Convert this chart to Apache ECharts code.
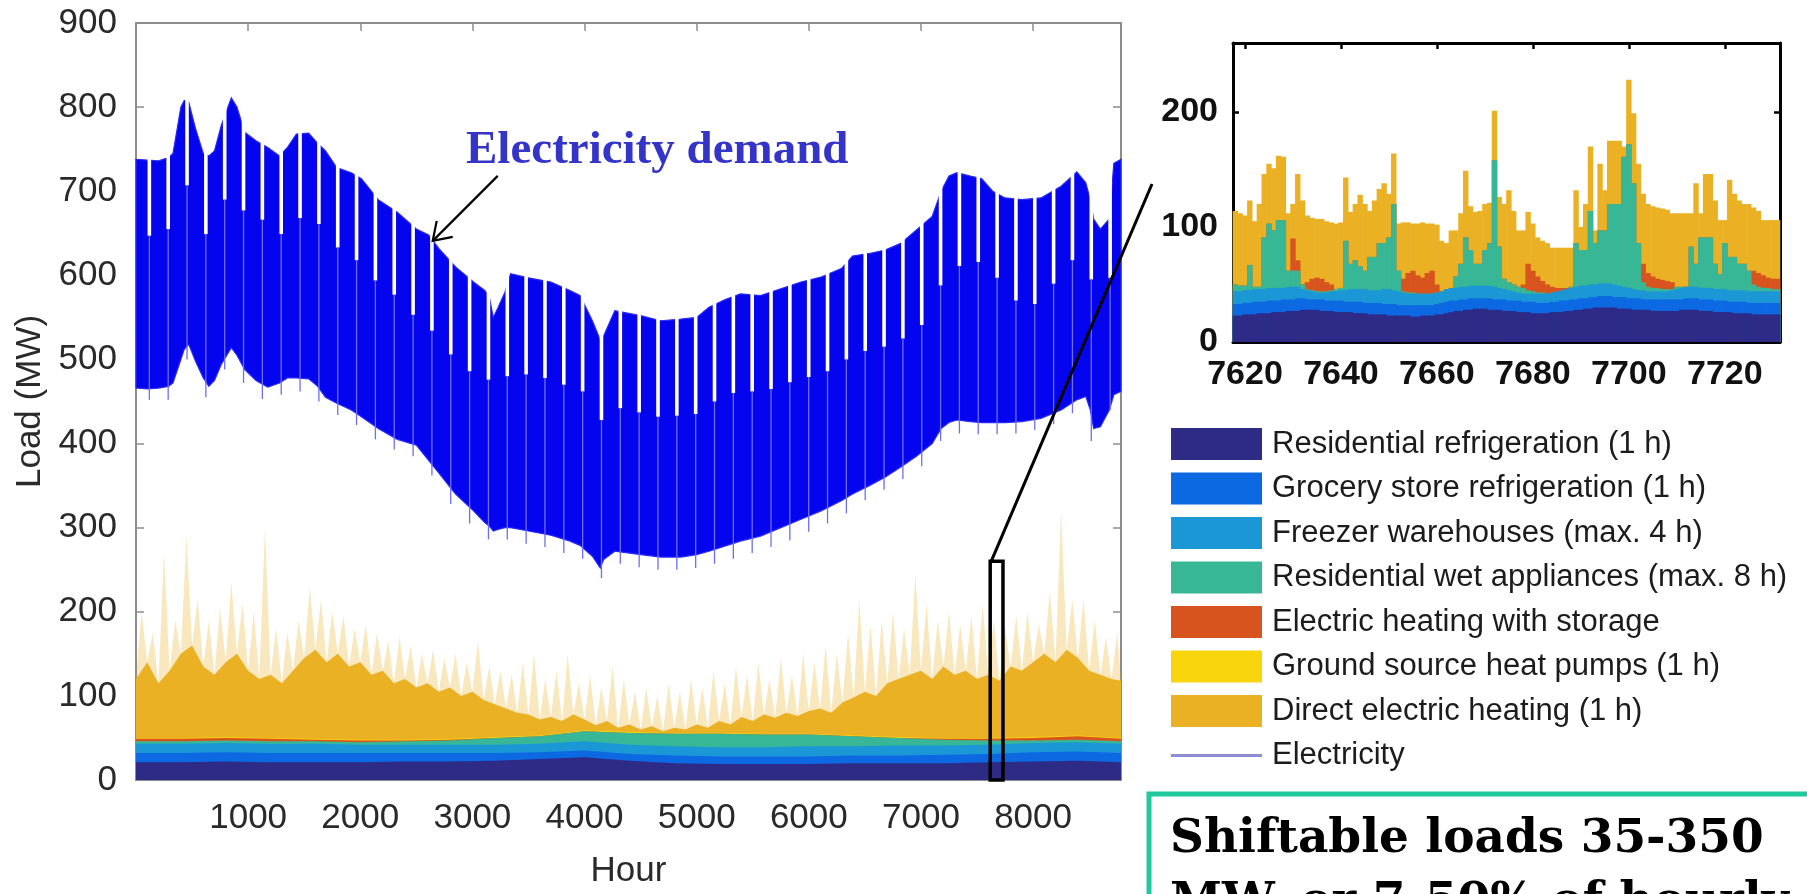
<!DOCTYPE html>
<html>
<head>
<meta charset="utf-8">
<script src="https://cdn.jsdelivr.net/npm/echarts@6/dist/echarts.min.js"></script>
<style>
  html, body { margin: 0; padding: 0; background: #ffffff; }
  #chart { width: 1807px; height: 894px; }
</style>
</head>
<body>
<div id="chart"></div>
<script>
// ---------- Electricity demand over the year (MW): daily-peak and night-trough envelopes ----------
const demandHours = [0, 100, 200, 290, 330, 400, 430, 470, 530, 600, 650, 700, 760, 850, 900, 970, 1070, 1175, 1280, 1350,
  1430, 1540, 1620, 1690, 1790, 1920, 2010, 2160, 2330, 2500, 2610, 2700, 2850, 3010, 3110, 3150, 3186, 3230, 3290, 3340,
  3500, 3700, 3870, 3960, 4070, 4140, 4170, 4270, 4500, 4680, 4860, 5000, 5110, 5250, 5390, 5570, 5750, 5930, 6110, 6290,
  6390, 6540, 6680, 6820, 6960, 7100, 7180, 7250, 7320, 7440, 7540, 7640, 7750, 7900, 8070, 8250, 8390, 8470, 8510, 8540,
  8600, 8680, 8720, 8784];
const demandTop = [738, 737, 736, 740, 745, 800, 808, 806, 775, 745, 742, 748, 778, 811, 800, 770, 760, 752, 742, 752,
  768, 769, 757, 748, 728, 722, 715, 690, 675, 655, 648, 632, 610, 592, 582, 575, 550, 562, 580, 602,
  597, 592, 582, 576, 546, 523, 528, 558, 552, 546, 548, 550, 562, 571, 578, 576, 584, 592, 598, 608,
  623, 626, 630, 638, 654, 670, 700, 718, 722, 718, 715, 700, 692, 690, 692, 706, 723, 710, 690, 667,
  655, 667, 733, 738];
const demandLow = [466, 465, 466, 468, 472, 500, 512, 518, 498, 478, 468, 475, 494, 514, 505, 488, 475, 467, 472, 478,
  478, 477, 468, 455, 448, 440, 432, 418, 405, 398, 380, 365, 340, 320, 306, 302, 296, 298, 300, 300,
  296, 291, 284, 279, 266, 252, 262, 272, 268, 265, 265, 268, 272, 278, 284, 290, 300, 310, 320, 332,
  340, 350, 360, 372, 385, 400, 418, 425, 428, 426, 425, 425, 425, 426, 430, 440, 452, 456, 440, 418,
  420, 440, 458, 462];

// Weekend days: lower daily peak and lower night trough
const weekendHours = [119, 287, 455, 623, 791, 959, 1127, 1295, 1463, 1631, 1799, 1967, 2135, 2303, 2471, 2639, 2807,
  2975, 3143, 3311, 3479, 3647, 3815, 3983, 4151, 4319, 4487, 4655, 4823, 4991, 5159, 5327, 5495, 5663, 5831, 5999,
  6167, 6335, 6503, 6671, 6839, 7007, 7175, 7343, 7511, 7679, 7847, 8015, 8183, 8351, 8519, 8687];
const weekendPeak = [647, 655, 707, 649, 690, 677, 666, 649, 668, 661, 633, 618, 594, 577, 553, 534, 506,
  486, 476, 480, 482, 478, 470, 462, 428, 442, 437, 432, 433, 435, 450, 460, 462, 465, 473, 479,
  486, 500, 510, 515, 525, 541, 588, 611, 616, 597, 570, 566, 590, 618, 595, 597];
const weekendLow = [452, 452, 500, 455, 488, 472, 453, 458, 462, 450, 434, 422, 405, 393, 385, 362, 328,
  305, 286, 286, 281, 277, 270, 263, 240, 257, 253, 250, 250, 252, 257, 263, 270, 277, 285, 295,
  305, 317, 333, 345, 358, 373, 403, 412, 411, 411, 412, 416, 423, 436, 403, 440];

// ---------- Shiftable loads over the year (cumulative tops, MW) ----------
const heatHours = [0, 100, 200, 300, 400, 500, 600, 700, 800, 900, 1000, 1100, 1200, 1300, 1400, 1500, 1600, 1700, 1800,
  1900, 2000, 2100, 2200, 2300, 2400, 2500, 2600, 2700, 2800, 2900, 3000, 3100, 3200, 3300, 3400, 3500, 3600, 3700,
  3800, 3900, 4000, 4100, 4200, 4300, 4400, 4500, 4600, 4700, 4800, 4900, 5000, 5100, 5200, 5300, 5400, 5500, 5600,
  5700, 5800, 5900, 6000, 6100, 6200, 6300, 6400, 6500, 6600, 6700, 6800, 6900, 7000, 7100, 7200, 7300, 7400, 7500,
  7600, 7700, 7800, 7900, 8000, 8100, 8200, 8300, 8400, 8500, 8600, 8700, 8784];
const directHeatingTop = [120, 140, 115, 130, 150, 160, 135, 125, 140, 150, 130, 120, 125, 115, 130, 145, 155, 140, 150,
  135, 140, 125, 130, 115, 120, 110, 115, 105, 110, 100, 105, 95, 90, 85, 80, 78, 72, 75,
  70, 78, 72, 65, 70, 62, 66, 60, 64, 58, 62, 60, 66, 62, 70, 66, 75, 70, 78,
  74, 80, 76, 82, 85, 80, 92, 98, 105, 100, 115, 120, 125, 130, 120, 135, 125, 130, 120,
  125, 118, 135, 130, 140, 150, 140, 155, 145, 130, 125, 120, 118];
const spikeHours = [50, 150, 250, 350, 450, 550, 650, 750, 850, 950, 1050, 1150, 1250, 1350, 1450, 1550, 1650, 1750,
  1850, 1950, 2050, 2150, 2250, 2350, 2450, 2550, 2650, 2750, 2850, 2950, 3050, 3150, 3250, 3350, 3450, 3550, 3650,
  3750, 3850, 3950, 4050, 4150, 4250, 4350, 4450, 4550, 4650, 4750, 4850, 4950, 5050, 5150, 5250, 5350, 5450, 5550,
  5650, 5750, 5850, 5950, 6050, 6150, 6250, 6350, 6450, 6550, 6650, 6750, 6850, 6950, 7050, 7150, 7250, 7350, 7450,
  7550, 7650, 7750, 7850, 7950, 8050, 8150, 8250, 8350, 8450, 8550, 8650, 8750];
const directHeatingSpikes = [200, 175, 270, 190, 290, 215, 190, 205, 235, 210, 200, 300, 180, 175, 190, 230, 215, 200,
  195, 180, 185, 175, 165, 170, 160, 150, 155, 145, 150, 140, 165, 135, 130, 125, 140, 150, 120,
  130, 150, 115, 125, 110, 135, 120, 105, 110, 100, 115, 105, 120, 110, 130, 115, 135, 125, 140,
  120, 145, 125, 150, 140, 160, 150, 175, 215, 185, 190, 200, 180, 245, 210, 190, 200, 185, 195,
  210, 190, 180, 195, 200, 185, 225, 320, 215, 215, 190, 170, 175];
const baseHours = [0, 400, 800, 1200, 1600, 2000, 2400, 2800, 3200, 3600, 4000, 4400, 4800, 5200, 5600, 6000, 6400,
  6800, 7200, 7600, 8000, 8400, 8784];
const gshpTop =        [50, 50, 51, 50, 49, 48, 48, 49, 51, 53, 59, 57, 56, 56, 55, 55, 53, 51, 50, 50, 51, 53, 50];
const storageTop =     [49, 49, 50, 49, 48, 47, 47, 48, 50, 52, 58, 56, 55, 55, 54, 54, 52, 50, 49, 49, 50, 52, 49];
const wetTop =         [46, 46, 47, 46, 46, 45, 46, 47, 50, 52, 58, 56, 55, 55, 54, 54, 52, 50, 48, 47, 47, 48, 46];
const freezerTop =     [43, 43, 44, 43, 43, 42, 42, 42, 42, 43, 46, 42, 40, 39, 39, 40, 40, 41, 41, 42, 44, 45, 43];
const groceryTop =     [32, 32, 33, 32, 32, 32, 32, 32, 32, 33, 35, 31, 29, 28, 28, 28, 29, 29, 30, 31, 33, 34, 32];
const residentialTop = [21, 21, 22, 21, 21, 21, 22, 22, 23, 25, 27, 23, 20, 19, 19, 19, 20, 20, 20, 21, 22, 23, 21];

// ---------- Close-up week, hourly cumulative tops (MW) ----------
const zoomRange = [7617.5, 7731.5];
const zoomMaxLoad = 260;
const zoomHours = [7618, 7619, 7620, 7621, 7622, 7623, 7624, 7625, 7626, 7627, 7628, 7629, 7630, 7631, 7632, 7633, 7634,
  7635, 7636, 7637, 7638, 7639, 7640, 7641, 7642, 7643, 7644, 7645, 7646, 7647, 7648, 7649, 7650, 7651, 7652, 7653, 7654,
  7655, 7656, 7657, 7658, 7659, 7660, 7661, 7662, 7663, 7664, 7665, 7666, 7667, 7668, 7669, 7670, 7671, 7672, 7673, 7674,
  7675, 7676, 7677, 7678, 7679, 7680, 7681, 7682, 7683, 7684, 7685, 7686, 7687, 7688, 7689, 7690, 7691, 7692, 7693, 7694,
  7695, 7696, 7697, 7698, 7699, 7700, 7701, 7702, 7703, 7704, 7705, 7706, 7707, 7708, 7709, 7710, 7711, 7712, 7713, 7714,
  7715, 7716, 7717, 7718, 7719, 7720, 7721, 7722, 7723, 7724, 7725, 7726, 7727, 7728, 7729, 7730, 7731];
const zoomDirect = [114, 112, 110, 123, 105, 120, 146, 155, 151, 162,
  161, 112, 120, 146, 123, 110, 108, 107, 107, 105,
  104, 103, 104, 143, 113, 120, 128, 120, 114, 123,
  133, 138, 129, 164, 103, 104, 104, 103, 103, 104,
  103, 103, 102, 88, 86, 97, 97, 112, 149, 118,
  113, 114, 120, 121, 201, 126, 120, 132, 114, 97,
  97, 113, 103, 91, 88, 86, 82, 82, 82, 82,
  82, 132, 100, 120, 170, 97, 155, 132, 175, 175,
  175, 170, 228, 199, 155, 129, 120, 118, 117, 116,
  115, 112, 112, 112, 112, 112, 138, 112, 146, 146,
  123, 106, 106, 141, 129, 123, 120, 120, 117, 114,
  106, 106, 106, 106];
const zoomStorage = [50, 49, 49, 67, 48, 48, 91, 103, 97, 106,
  106, 62, 90, 71, 50, 52, 55, 56, 55, 52,
  50, 46, 47, 88, 68, 71, 66, 62, 74, 74,
  86, 86, 91, 120, 62, 55, 60, 62, 58, 56,
  60, 62, 50, 44, 45, 46, 57, 68, 91, 80,
  68, 68, 80, 86, 158, 83, 55, 52, 50, 48,
  50, 68, 62, 57, 53, 50, 48, 47, 47, 47,
  48, 86, 80, 80, 114, 86, 97, 97, 120, 120,
  120, 161, 172, 138, 86, 68, 60, 57, 55, 54,
  53, 52, 48, 48, 48, 83, 68, 91, 91, 91,
  68, 59, 86, 74, 74, 68, 68, 62, 62, 60,
  58, 56, 55, 55];
const zoomWet = [50, 49, 49, 67, 48, 48, 91, 103, 97, 106,
  106, 62, 62, 62, 50, 46, 45, 44, 44, 44,
  45, 46, 47, 88, 68, 71, 66, 62, 74, 74,
  86, 86, 91, 120, 62, 44, 43, 43, 42, 42,
  42, 42, 43, 44, 45, 46, 57, 68, 91, 80,
  68, 68, 80, 86, 158, 83, 55, 52, 50, 48,
  47, 45, 44, 43, 43, 42, 42, 42, 43, 44,
  48, 86, 80, 80, 114, 86, 97, 97, 120, 120,
  120, 161, 172, 138, 86, 52, 48, 47, 47, 46,
  46, 46, 48, 48, 48, 83, 68, 91, 91, 91,
  68, 59, 86, 74, 74, 68, 68, 62, 50, 48,
  47, 47, 46, 46];
const zoomFreezer = [44, 44, 45, 45, 46, 46, 46, 47, 47, 47,
  47, 48, 48, 48, 46, 45, 44, 43, 43, 43,
  44, 44, 45, 45, 46, 46, 46, 46, 45, 45,
  45, 46, 46, 45, 44, 43, 42, 42, 42, 42,
  42, 42, 43, 44, 46, 47, 47, 48, 48, 49,
  49, 49, 49, 49, 48, 47, 46, 45, 44, 43,
  42, 42, 42, 42, 42, 42, 43, 44, 45, 46,
  47, 48, 49, 49, 50, 50, 51, 51, 51, 50,
  49, 48, 47, 46, 45, 45, 44, 44, 44, 44,
  44, 45, 46, 47, 48, 48, 48, 47, 47, 47,
  46, 46, 46, 45, 45, 45, 45, 44, 44, 44,
  44, 44, 44, 44];
const zoomGrocery = [33, 33, 34, 34, 35, 35, 35, 36, 36, 36,
  37, 37, 37, 38, 38, 37, 37, 37, 37, 36,
  36, 36, 36, 35, 35, 35, 35, 34, 34, 34,
  34, 33, 33, 33, 32, 32, 32, 32, 32, 32,
  32, 32, 33, 34, 35, 36, 36, 37, 37, 38,
  38, 38, 38, 38, 37, 37, 37, 36, 36, 36,
  35, 35, 35, 34, 34, 34, 35, 35, 36, 36,
  37, 37, 38, 38, 39, 39, 40, 40, 40, 39,
  39, 39, 38, 38, 38, 37, 37, 37, 37, 37,
  37, 37, 37, 37, 38, 38, 38, 37, 37, 37,
  36, 36, 36, 35, 35, 35, 35, 34, 34, 34,
  34, 34, 34, 34];
const zoomResidential = [23, 23, 24, 24, 24, 25, 25, 25, 26, 26,
  26, 27, 27, 27, 28, 28, 28, 28, 27, 27,
  27, 26, 26, 26, 26, 25, 25, 25, 24, 24,
  24, 24, 23, 23, 23, 23, 23, 22, 22, 23,
  23, 23, 24, 24, 25, 26, 27, 27, 28, 28,
  29, 29, 29, 28, 28, 28, 27, 27, 27, 26,
  26, 26, 25, 25, 25, 25, 26, 26, 26, 27,
  27, 28, 28, 29, 29, 30, 30, 30, 30, 30,
  29, 29, 29, 28, 28, 28, 28, 27, 27, 27,
  27, 27, 27, 28, 28, 28, 28, 27, 27, 27,
  26, 26, 26, 26, 25, 25, 25, 25, 24, 24,
  24, 24, 24, 24];

// ---------- Ticks, names, colours ----------
const hourTicks = [1000, 2000, 3000, 4000, 5000, 6000, 7000, 8000];
const zoomTicks = [7620, 7640, 7660, 7680, 7700, 7720];
const zoomLoadTicks = [0, 100, 200];
const loadNames = ['Residential refrigeration (1 h)', 'Grocery store refrigeration (1 h)', 'Freezer warehouses (max. 4 h)',
  'Residential wet appliances (max. 8 h)', 'Electric heating with storage', 'Ground source heat pumps (1 h)',
  'Direct electric heating (1 h)'];
const loadColors = ['#2d2b86', '#0d69e2', '#1c97d6', '#37b795', '#d8541e', '#f8d50c', '#ebb124'];
const electricityName = 'Electricity';
const electricityLegendColor = '#8d8dd3';
const demandFill = '#0404ef';

// ---------- Chart ----------
const chart = echarts.init(document.getElementById('chart'), null, { renderer: 'canvas' });
const SANS = '"Liberation Sans", Arial, Helvetica, sans-serif';
const pairs = (xs, ys) => xs.map((x, i) => [x, ys[i]]);
const plainNumber = v => String(v);

const mainAxisColor = '#8d8d8d';
const tickFont = { color: '#2a2a2a', fontSize: 35, fontFamily: SANS, formatter: plainNumber };

function yearArea(name, xs, ys, color, opacity) {
  return {
    name, type: 'line', xAxisIndex: 0, yAxisIndex: 0, data: pairs(xs, ys),
    symbol: 'none', silent: true, animation: false,
    lineStyle: { width: 0 }, areaStyle: { color, opacity: opacity == null ? 1 : opacity }
  };
}
function weekBars(name, ys, color) {
  return {
    name, type: 'bar', xAxisIndex: 1, yAxisIndex: 1, data: pairs(zoomHours, ys),
    barWidth: 5.4, barGap: '-100%', silent: true, animation: false,
    itemStyle: { color }
  };
}

// pale spikes above the dense direct-heating band
const hazeData = pairs(heatHours, directHeatingTop).concat(pairs(spikeHours, directHeatingSpikes))
  .sort((a, b) => a[0] - b[0]);

const residentialSeries = yearArea(loadNames[0], baseHours, residentialTop, loadColors[0]);
// outline of the week shown in the close-up panel, drawn above the load areas
residentialSeries.markArea = {
  silent: true, z: 6, label: { show: false },
  itemStyle: { color: 'rgba(0,0,0,0)', borderColor: '#000000', borderWidth: 3.5 },
  data: [[{ coord: [zoomRange[0], 0] }, { coord: [zoomRange[1], zoomMaxLoad] }]]
};

const series = [
  Object.assign(yearArea('Direct electric heating spikes', [], [], loadColors[6], 0.3), { data: hazeData }),
  yearArea(loadNames[6], heatHours, directHeatingTop, loadColors[6]),
  yearArea(loadNames[5], baseHours, gshpTop, loadColors[5]),
  yearArea(loadNames[4], baseHours, storageTop, loadColors[4]),
  yearArea(loadNames[3], baseHours, wetTop, loadColors[3]),
  yearArea(loadNames[2], baseHours, freezerTop, loadColors[2]),
  yearArea(loadNames[1], baseHours, groceryTop, loadColors[1]),
  residentialSeries,
  {
    // band between night troughs and daily peaks
    name: electricityName, type: 'custom', xAxisIndex: 0, yAxisIndex: 0, silent: true, animation: false,
    data: demandHours.map((h, i) => [h, demandLow[i], demandTop[i]]),
    renderItem: function (params, api) {
      if (params.dataIndex !== 0) return null;
      const upper = demandHours.map((h, i) => api.coord([h, demandTop[i]]));
      const lower = demandHours.map((h, i) => api.coord([h, demandLow[i]])).reverse();
      return {
        type: 'polygon', shape: { points: upper.concat(lower) },
        style: { fill: demandFill, stroke: '#2a2af3', lineWidth: 1.2 }
      };
    }
  },
  {
    name: 'Weekends', type: 'custom', xAxisIndex: 0, yAxisIndex: 0, silent: true, animation: false,
    data: weekendHours.map((h, i) => [h, weekendPeak[i], weekendLow[i]]),
    renderItem: function (params, api) {
      const peak = api.coord([api.value(0), api.value(1)]);
      const low = api.coord([api.value(0), api.value(2)]);
      const ceil = api.coord([api.value(0), 840]);
      return {
        type: 'group',
        children: [
          { type: 'rect', shape: { x: peak[0] - 1.8, y: ceil[1], width: 3.6, height: peak[1] - ceil[1] },
            style: { fill: '#ffffff' } },
          { type: 'line', shape: { x1: low[0], y1: low[1], x2: peak[0], y2: peak[1] },
            style: { stroke: '#6e6ef2', lineWidth: 1.3 } }
        ]
      };
    }
  },
  weekBars(loadNames[6], zoomDirect, loadColors[6]),
  weekBars(loadNames[4], zoomStorage, loadColors[4]),
  weekBars(loadNames[3], zoomWet, loadColors[3]),
  weekBars(loadNames[2], zoomFreezer, loadColors[2]),
  weekBars(loadNames[1], zoomGrocery, loadColors[1]),
  weekBars(loadNames[0], zoomResidential, loadColors[0])
];

const mainLine = { show: true, onZero: false, lineStyle: { color: mainAxisColor, width: 2 } };
const mainTick = { show: true, inside: true, length: 8, lineStyle: { color: mainAxisColor, width: 1.5 } };
const zoomLine = { show: true, onZero: false, lineStyle: { color: '#000000', width: 3 } };
const zoomTick = { show: true, inside: true, length: 6, lineStyle: { color: '#000000', width: 2.5 } };
const zoomLabel = { color: '#111111', fontSize: 34, fontWeight: 'bold', fontFamily: SANS, formatter: plainNumber };

chart.setOption({
  backgroundColor: '#ffffff',
  animation: false,
  grid: [
    { left: 136, top: 23, width: 985, height: 760, show: false },
    { left: 1233, top: 43, width: 547, height: 299, show: false }
  ],
  xAxis: [
    { gridIndex: 0, type: 'value', min: 0, max: 8784, interval: 1000, position: 'bottom',
      axisLine: mainLine, axisTick: Object.assign({ customValues: hourTicks }, mainTick), splitLine: { show: false },
      axisLabel: Object.assign({ customValues: hourTicks, margin: 21 }, tickFont),
      name: 'Hour', nameLocation: 'middle', nameGap: 74,
      nameTextStyle: { color: '#2a2a2a', fontSize: 35, fontFamily: SANS } },
    { gridIndex: 1, type: 'value', min: zoomRange[0], max: zoomRange[1], position: 'bottom',
      axisLine: zoomLine, axisTick: Object.assign({ customValues: zoomTicks }, zoomTick), splitLine: { show: false },
      axisLabel: Object.assign({ customValues: zoomTicks, margin: 16 }, zoomLabel) },
    { gridIndex: 1, type: 'value', min: zoomRange[0], max: zoomRange[1], position: 'top',
      axisLine: zoomLine, axisTick: Object.assign({ customValues: zoomTicks }, zoomTick), splitLine: { show: false },
      axisLabel: { show: false } },
    { gridIndex: 0, type: 'value', min: 0, max: 8784, interval: 1000, position: 'top',
      axisLine: mainLine, axisTick: Object.assign({ customValues: hourTicks }, mainTick), splitLine: { show: false },
      axisLabel: { show: false } }
  ],
  yAxis: [
    { gridIndex: 0, type: 'value', min: 0, max: 900, interval: 100, position: 'left',
      axisLine: mainLine, axisTick: mainTick, splitLine: { show: false },
      axisLabel: Object.assign({ margin: 19 }, tickFont),
      name: 'Load (MW)', nameLocation: 'middle', nameGap: 82, nameRotate: 90,
      nameTextStyle: { color: '#2a2a2a', fontSize: 35, fontFamily: SANS } },
    { gridIndex: 1, type: 'value', min: 0, max: zoomMaxLoad, position: 'left',
      axisLine: zoomLine, axisTick: Object.assign({ customValues: zoomLoadTicks }, zoomTick), splitLine: { show: false },
      axisLabel: Object.assign({ customValues: zoomLoadTicks, margin: 15 }, zoomLabel) },
    { gridIndex: 1, type: 'value', min: 0, max: zoomMaxLoad, position: 'right',
      axisLine: zoomLine, axisTick: Object.assign({ customValues: zoomLoadTicks }, zoomTick), splitLine: { show: false },
      axisLabel: { show: false } },
    { gridIndex: 0, type: 'value', min: 0, max: 900, interval: 100, position: 'right',
      axisLine: mainLine, axisTick: mainTick, splitLine: { show: false }, axisLabel: { show: false } }
  ],
  series
});

// ---------- Annotations, legend and note box ----------
const graphics = [];

// legend: area swatches then the electricity line
loadNames.forEach((name, i) => {
  const cy = 444 + i * 44.5;
  graphics.push({ type: 'rect', z: 100, shape: { x: 1171, y: cy - 16, width: 91, height: 32 },
    style: { fill: loadColors[i] } });
  graphics.push({ type: 'text', z: 100, x: 1272, y: cy,
    style: { text: name, fill: '#1c1c1c', font: '31px ' + SANS, verticalAlign: 'middle', align: 'left' } });
});
{
  const cy = 444 + loadNames.length * 44.5;
  graphics.push({ type: 'line', z: 100, shape: { x1: 1171, y1: cy, x2: 1262, y2: cy },
    style: { stroke: electricityLegendColor, lineWidth: 3 } });
  graphics.push({ type: 'text', z: 100, x: 1272, y: cy,
    style: { text: electricityName, fill: '#1c1c1c', font: '31px ' + SANS, verticalAlign: 'middle', align: 'left' } });
}

// "Electricity demand" label with arrow pointing at the band's upper edge
const tip = chart.convertToPixel({ xAxisIndex: 0, yAxisIndex: 0 }, [2646, 641]);
graphics.push({ type: 'text', z: 100, x: 466, y: 151,
  style: { text: 'Electricity demand', fill: '#3434c9', font: 'bold 47px "Liberation Serif", "Times New Roman", serif',
    verticalAlign: 'middle', align: 'left' } });
graphics.push({ type: 'line', z: 100, shape: { x1: tip[0] + 65, y1: tip[1] - 65, x2: tip[0], y2: tip[1] },
  style: { stroke: '#000000', lineWidth: 2.2 } });
graphics.push({ type: 'polyline', z: 100,
  shape: { points: [[tip[0] + 4, tip[1] - 20], [tip[0], tip[1]], [tip[0] + 20, tip[1] - 4]] },
  style: { stroke: '#000000', lineWidth: 2.2, fill: null } });

// connector from the highlighted week to the close-up panel
const boxCorner = chart.convertToPixel({ xAxisIndex: 0, yAxisIndex: 0 }, [zoomRange[0], zoomMaxLoad]);
graphics.push({ type: 'line', z: 100, shape: { x1: boxCorner[0] + 1, y1: boxCorner[1], x2: 1152, y2: 184 },
  style: { stroke: '#000000', lineWidth: 3 } });

// note box
graphics.push({ type: 'rect', z: 100, shape: { x: 1149, y: 794, width: 700, height: 200 },
  style: { fill: null, stroke: '#1fc99b', lineWidth: 5 } });
graphics.push({ type: 'text', z: 101, x: 1170, y: 840,
  style: { text: 'Shiftable loads 35-350', fill: '#000000', font: 'bold 47px "DejaVu Serif", serif',
    verticalAlign: 'middle', align: 'left' } });
graphics.push({ type: 'text', z: 101, x: 1170, y: 903,
  style: { text: 'MW, or 7-50% of hourly', fill: '#000000', font: 'bold 47px "DejaVu Serif", serif',
    verticalAlign: 'middle', align: 'left' } });

chart.setOption({ graphic: graphics });
</script>
</body>
</html>
